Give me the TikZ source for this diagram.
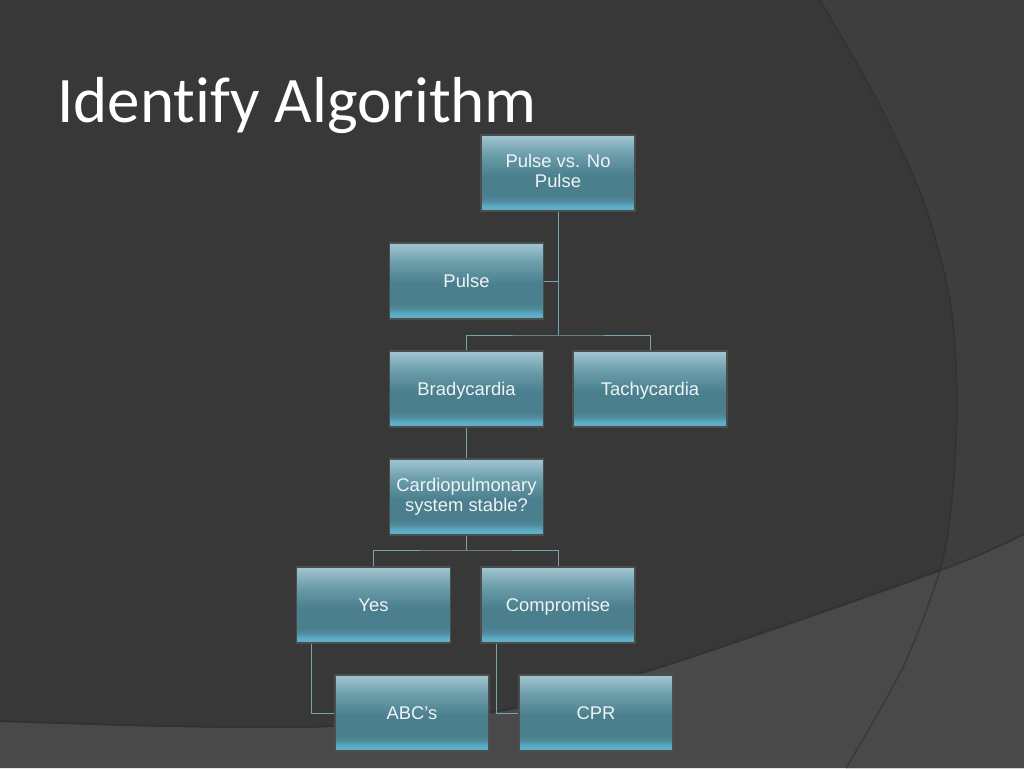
\documentclass[tikz,border=0pt]{standalone}
\usepackage{fontspec}
\setmainfont{Liberation Sans}
\newfontfamily\titlefont[Ligatures={NoCommon,NoRare,NoContextual}]{Carlito}
\definecolor{bgmain}{HTML}{383838}
\definecolor{bgright}{HTML}{3E3E3E}
\definecolor{bgband}{HTML}{494949}
\definecolor{arcline}{HTML}{2C2C2C}
\definecolor{ttop}{HTML}{A2C6D1}
\definecolor{tup}{HTML}{6B9DAB}
\definecolor{tmid}{HTML}{4B7F8D}
\definecolor{tbot2}{HTML}{4F8A9C}
\definecolor{tbot}{HTML}{5DAFC7}
\definecolor{boxedge}{HTML}{4C4E4E}
\definecolor{connc}{HTML}{7AA3B0}
\definecolor{boxtext}{HTML}{EEF4F6}
\pgfdeclareverticalshading{tealbox}{100bp}{color(0bp)=(tbot); color(25bp)=(tbot); color(28bp)=(tbot); color(32bp)=(tbot2); color(35bp)=(tmid); color(48bp)=(tmid); color(62bp)=(tup); color(75bp)=(ttop); color(100bp)=(ttop)}
\newcommand{\boxstrut}{\vrule width 0pt height 17.2pt depth 4pt\relax}
\newcommand{\highstrut}{\vrule width 0pt height 21.7pt depth 0pt\relax}
\begin{document}
\begin{tikzpicture}[x=1pt,y=-1pt,
  box/.style={draw=boxedge, line width=1.8pt, shading=tealbox, minimum width=154pt, minimum height=76pt,
    inner sep=2pt, align=center, text=boxtext, font=\fontsize{18.4}{20.5}\selectfont,
    execute at begin node=\boxstrut, execute at end node=\boxstrut},
  twoline/.style={execute at begin node=\highstrut},
  conn/.style={draw=connc, line width=1pt}]
\useasboundingbox (0,0) rectangle (1024,768);
% background
\fill[bgmain] (0,0) rectangle (1024,768);
\fill[bgright] plot[smooth] coordinates {(820,0) (877,100) (923,200) (950,300) (957,400) (952,500) (940,570) (903,667) (846,768)} -- (1024,768) -- (1024,0) -- cycle;
\fill[bgband] plot[smooth] coordinates {(0,722) (170,727) (333,727) (510,710) (676,663) (941,571) (1024,535)} -- (1024,768) -- (0,768) -- cycle;
\draw[arcline, line width=1.5pt, opacity=0.55] plot[smooth] coordinates {(820,0) (877,100) (923,200) (950,300) (957,400) (952,500) (940,570) (903,667) (846,768)};
\draw[arcline, line width=2pt, opacity=0.45] plot[smooth] coordinates {(0,721) (170,726) (333,726) (510,709) (676,662) (941,570) (1024,534)};
% title
\node[anchor=base west, text=white, inner sep=0pt, font=\titlefont\fontsize{65}{65}\selectfont] (title) at (57,122) {Identify Algorithm};
% boxes
\node[box, twoline] (pvn) at (558,173) {Pulse vs. No\\Pulse};
\node[box] (pulse) at (466.5,281) {Pulse};
\node[box] (brady) at (466.5,389) {Bradycardia};
\node[box] (tachy) at (650,389) {Tachycardia};
\node[box, twoline] (cardio) at (466.5,497) {Cardiopulmonary\\system stable?};
\node[box] (yes) at (373.5,605) {Yes};
\node[box] (comp) at (558,605) {Compromise};
\node[box] (abc) at (412,713) {ABC’s};
\node[box] (cpr) at (596,713) {CPR};
\coordinate (j1) at (558,335);
\coordinate (j2) at (466.5,550);
% connectors
\draw[conn] (pvn.south) -- (j1);
\draw[conn] (brady.north) |- (j1) -| (tachy.north);
\draw[conn] (pulse.east) -- (pulse.east -| pvn.south);
\draw[conn] (brady.south) -- (cardio.north);
\draw[conn] (cardio.south) -- (j2);
\draw[conn] (yes.north) |- (j2) -| (comp.north);
\draw[conn] ([xshift=16pt]yes.south west) |- (abc.west);
\draw[conn] ([xshift=16pt]comp.south west) |- (cpr.west);
\end{tikzpicture}
\end{document}
